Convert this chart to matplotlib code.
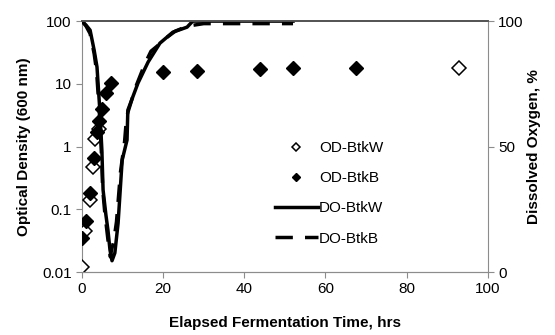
import matplotlib
matplotlib.use("Agg")
import matplotlib.pyplot as plt

plt.rcParams['font.family'] = ['Liberation Sans', 'DejaVu Sans']

# optical density, log scale (left axis)
od_w_t = [0, 0.8, 2.0, 2.8, 3.3, 4.2, 92.9]
od_w = [0.012, 0.045, 0.14, 0.48, 1.3, 1.9, 17.8]
od_b_t = [0, 1.0, 2.0, 2.9, 3.7, 4.2, 4.9, 5.9, 7.1, 20, 28.3, 43.8, 52, 67.5]
od_b = [0.035, 0.065, 0.18, 0.66, 1.7, 2.6, 3.9, 7.1, 10.3, 15.5, 16, 17.2, 18.2, 17.8]

# dissolved oxygen, % (right axis)
do_w_t = [0, 1, 2, 3, 3.7, 4.4, 4.9, 5.2, 5.9, 6.4, 6.9, 7.4, 8.1, 8.9, 9.9,
          11.1, 11.3, 13.8, 16.3, 19.2, 22.4, 25.9, 27.3, 40, 52]
do_w = [100, 98.4, 96.4, 88.4, 81.7, 64.5, 48.6, 32.7, 22.7, 16.7, 8.8, 4.5, 7.6,
        19.5, 44.6, 52.6, 64.5, 75.3, 83.7, 91.2, 95.6, 97.6, 100, 100, 100]
do_b_t = [0, 1, 2, 3, 3.6, 4.3, 4.8, 5.1, 5.6, 6.1, 6.6, 7.0, 7.3, 7.8, 8.5, 9.5,
          10.5, 11.0, 13.3, 15.5, 17.0, 18.5, 20.5, 23, 26, 30, 40, 52]
do_b = [100, 98, 95, 87, 80, 63, 47, 33, 24, 17, 10, 6, 9, 12, 20, 40,
        52, 62, 74, 83, 88, 90, 93, 96, 98, 99, 99, 99]

fig = plt.figure(figsize=(5.55, 3.35), dpi=100)
ax = fig.add_axes([0.1477, 0.188, 0.879 - 0.1477, 0.937 - 0.188])
ax2 = ax.twinx()

h1, = ax.plot(od_w_t, od_w, linestyle='none', marker='D', markersize=7,
              markerfacecolor='white', markeredgecolor='black', markeredgewidth=1.1,
              label='OD-BtkW', zorder=3)
h2, = ax.plot(od_b_t, od_b, linestyle='none', marker='D', markersize=7,
              color='black', label='OD-BtkB', zorder=3)
h3, = ax2.plot(do_w_t, do_w, color='black', linewidth=2.5, label='DO-BtkW')
h4, = ax2.plot(do_b_t, do_b, color='black', linewidth=2.5, linestyle=(0, (5, 3.5)),
               label='DO-BtkB')

ax.set_yscale('log')
ax.set_xlim(0, 100)
ax.set_ylim(0.01, 100)
ax.set_yticks([0.01, 0.1, 1, 10, 100])
ax.set_yticklabels(['0.01', '0.1', '1', '10', '100'])
ax.minorticks_off()
ax.set_xticks([0, 20, 40, 60, 80, 100])
ax2.set_ylim(0, 100)
ax2.set_yticks([0, 50, 100])

for a in (ax, ax2):
    for s in ('left', 'right', 'bottom'):
        a.spines[s].set_color('#8c8c8c')
    a.spines['top'].set_color('#555555')
    a.spines['top'].set_linewidth(1.3)
    a.tick_params(colors='#8c8c8c', labelcolor='black', labelsize=11, length=4,
                  direction='out')
ax2.spines['left'].set_visible(False)
ax.spines['right'].set_visible(False)

ax.set_xlabel('Elapsed Fermentation Time, hrs', fontsize=11, fontweight='bold', labelpad=14)
ax.set_ylabel('Optical Density (600 nm)', fontsize=11, fontweight='bold', labelpad=8)
ax2.set_ylabel('Dissolved Oxygen, %', fontsize=11, fontweight='bold', labelpad=2)

ax2.legend(handles=[h1, h2, h3, h4], loc='upper left', bbox_to_anchor=(0.46, 0.545),
           frameon=False, fontsize=11, handlelength=2.8, labelspacing=1.05,
           handletextpad=0.1, borderaxespad=0, markerscale=0.6)

fig.savefig('out.png', dpi=100)
